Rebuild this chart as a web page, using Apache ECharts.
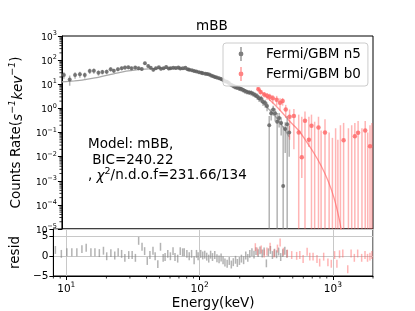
<!DOCTYPE html>
<html><head><meta charset="utf-8">
<script src="https://cdn.jsdelivr.net/npm/echarts@6/dist/echarts.min.js"></script>
<style>html,body{margin:0;padding:0;background:#fff}#c{width:415px;height:311px}</style>
</head><body><div id="c"></div>
<script>
// ---- Fermi/GBM n5 (NaI) ----
const n5E = [8.28, 9.18, 10.1, 11.0, 12.0, 13.1, 14.1, 15.3, 16.4, 17.7,
  19.0, 20.1, 21.6, 23.1, 24.5, 26.0, 27.5, 29.4, 31.2, 33.0,
  34.9, 37.0, 38.7, 40.5, 42.4, 44.7, 46.4, 48.6, 50.9, 53.3,
  55.1, 57.7, 60.4, 63.2, 65.4, 68.5, 71.6, 74.6, 76.7, 80.3,
  83.6, 87.1, 91.0, 94.8, 97.5, 102, 105.6, 109.3, 113.1, 117.1,
  121, 125, 130, 135, 140, 145, 150, 155, 161, 167, 173, 179, 186, 192, 199, 206,
  214, 222, 230, 238, 247, 256, 265, 275, 284, 295, 305,
  317, 328, 340, 352, 365, 378, 392, 406, 421, 436, 452];
const n5Y = [24.0, 15.8, 24.0, 25.7, 24.0, 35.5, 36.3, 30.2, 32.4, 33.1,
  41.7, 36.3, 41.7, 45.7, 49.0, 50.1, 45.7, 49.0, 45.7, 42.7,
  74.1, 57.5, 47.9, 39.8, 45.7, 50.1, 43.7, 45.7, 52.5, 44.7,
  45.7, 47.9, 46.8, 49.0, 44.7, 45.7, 47.9, 41.7, 39.8, 38.0,
  35.5, 33.9, 31.6, 30.2, 28.8, 27.5, 26.3, 25.1, 22.9, 21.4,
  20.0, 19.1, 17.8, 16.6, 15.1, 13.2, 12.6, 11.2, 9.5, 8.5, 7.6, 7.2, 6.6, 6.3, 5.8, 5.2,
  4.8, 4.6, 4.4, 4.0, 3.6, 3.2, 2.6, 2.5, 1.9, 1.66, 1.26,
  0.20, 0.63, 0.89, 0.63, 0.28, 0.40, 0.25, 0.0006, 0.14, 0.22, 0.10];
const n5ErrFrac = [0.3, 0.45, 0.3, 0.28, 0.28, 0.25, 0.25, 0.25, 0.22, 0.22,
  0.2, 0.2, 0.18, 0.18, 0.18, 0.17, 0.17, 0.16, 0.16, 0.16,
  0.16, 0.15, 0.15, 0.15, 0.15, 0.14, 0.14, 0.14, 0.14, 0.14,
  0.14, 0.14, 0.14, 0.14, 0.14, 0.14, 0.14, 0.14, 0.14, 0.14,
  0.14, 0.14, 0.14, 0.15, 0.15, 0.15, 0.15, 0.15, 0.15, 0.15,
  0.16, 0.16, 0.16, 0.17, 0.17, 0.17, 0.18, 0.18, 0.18, 0.19, 0.19, 0.2, 0.2, 0.2, 0.21, 0.22,
  0.22, 0.23, 0.24, 0.25, 0.26, 0.28, 0.3, 0.32, 0.34, 0.36, 0.4,
  1.4, 0.5, 0.45, 0.55, 1.3, 0.6, 0.7, 300, 0.9, 1.2, 0.9];
const n5Resid = [1.6, 0.6, 1.0, 1.0, 1.0, 1.8, 2.15, 1.0, 1.0, 0.8,
  1.4, 0.0, 0.8, 0.2, 1.0, 0.6, -0.4, 0.3, 0.3, -0.4,
  3.9, 2.4, 1.3, -1.2, 0.3, 1.4, 0.0, -2.0, 2.4, -0.4,
  -0.2, 0.6, 0.0, 1.3, -0.2, -0.6, 1.3, 1.0, 1.0, 0.6,
  0.0, 0.6, -1.0, 0.6, 0.0, 0.6, 0.2, 0.4, -0.1, -0.6,
  0.4, -0.2, 0.3, -0.5, -0.8, -0.3, -1.0, -1.6, -1.9, -1.2, -2.1, -1.5, -0.9, -1.7, -1.2, -0.6,
  -1.0, 0.2, -0.4, 0.6, 1.0, 0.4, 1.3, 0.8, 1.5, 0.7, 1.2,
  -1.8, 1.0, 1.6, 0.3, 0.9, 0.5, 1.2, -0.2, 0.8, 1.4, 0.6];
const n5ModelE = [8, 9, 10, 11, 12, 14, 18, 20, 25, 30, 35, 40, 50, 60, 70, 80, 90, 100, 120, 150, 180, 200, 250, 300, 350, 400, 452];
const n5ModelY = [12.6, 13.2, 13.8, 14.5, 15.5, 17.8, 24.0, 26.9, 34.7, 39.8, 42.7, 44.2, 45.2, 44.2, 41.2, 37.2, 33.1, 28.8, 20.9, 12.6, 8.5, 6.6, 3.0, 1.2, 0.50, 0.19, 0.066];

// ---- Fermi/GBM b0 (BGO) ----
const b0E = [262, 272, 290, 305, 320, 338, 362, 384, 402, 425, 455, 491, 535, 565, 598, 641, 671, 710,
  760, 796, 853, 918, 973, 1030, 1072, 1122, 1187, 1293, 1370, 1449, 1535, 1644, 1742, 1820, 1897, 1963];
const b0Y = [6.2, 4.8, 3.8, 3.3, 3.0, 2.6, 2.3, 1.7, 2.0, 0.9, 0.45, 0.48, 0.10, 0.0095, 0.31, 0.05, 0.19, null,
  0.16, null, 0.10, null, null, null, null, null, 0.048, null, null, 0.07, 0.098, null, 0.12, null, 0.027, null];
const b0Hi = [7.4, 5.9, 4.8, 4.3, 4.0, 3.6, 3.3, 2.6, 2.7, 1.4, 0.9, 0.95, 0.55, 0.45, 0.75, 0.45, 0.55, 0.28,
  0.45, 0.12, 0.35, 0.10, 0.06, 0.15, 0.05, 0.2, 0.25, 0.15, 0.2, 0.25, 0.3, 0.15, 0.3, 0.1, 0.2, 0.25];
const b0Lo = [5.0, 3.7, 2.8, 2.3, 2.0, 1.6, 1.3, 0.8, 1.3, 0.4, 0.05, 0.02, null, 0.0013, null, 0.025, null, null,
  null, null, null, null, null, null, null, null, null, null, null, null, null, null, null, null, null, null];
const b0Resid = [2.3, 1.2, 1.7, 0.7, 1.2, 2.4, 0.7, 1.95, 3.5, 1.15, 0.7, 0.3, 0.1, 0.3, -0.7, 1.15, -0.1, -0.1,
  -0.7, -1.6, -0.1, -1.55, -1.9, 0.3, -1.9, 0.5, 0.7, -3.3, 0.7, -0.4, 0.7, -0.4, 0.3, -0.4, -0.1, 0.3];
const b0ModelE = [254, 300, 350, 400, 450, 500, 550, 600, 700, 800, 900, 1000, 1100, 1150];
const b0ModelY = [7.4, 3.16, 1.41, 0.66, 0.316, 0.178, 0.1, 0.05, 0.0141, 0.00398, 0.001, 0.0002, 2.5e-5, 6.3e-6];

// ---- axes ----
const xMin = 8, xMax = 2000;
const yMin = 1e-5, yMax = 1e3;
const rMin = -5, rMax = 6.9;
const residTicks = [-5, 0, 5];
const xMinorTicks = [8, 9, 20, 30, 40, 50, 60, 70, 80, 90, 200, 300, 400, 500, 600, 700, 800, 900, 2000];
const yMinorMult = [2, 3, 4, 5, 6, 7, 8, 9];
const yDecades = [-5, -4, -3, -2, -1, 0, 1, 2];
const legendNames = ['Fermi/GBM n5', 'Fermi/GBM b0'];
const annotation = ['Model: mBB,', ' BIC=240.22', ', χ²/n.d.o.f=231.66/134'];

const FONT = 'DejaVu Sans';
const GRAY_DOT = '#5e5e5e', GRAY_BAR = 'rgba(128,128,128,0.6)', GRAY_LINE = '#a8a8a8';
const RED_DOT = '#ff6464', RED_BAR = 'rgba(255,90,90,0.45)', RED_LINE = '#ff9a9a';

const n5Bars = n5E.map((e, i) => {
  const y = n5Y[i], f = n5ErrFrac[i];
  const lo = f < 1 ? y * (1 - f) : yMin;
  return [e, Math.max(lo, yMin), y * (1 + f)];
});
const b0Bars = b0E.map((e, i) => [e, b0Lo[i] == null ? yMin : b0Lo[i], b0Hi[i]]);
const n5Dots = n5E.map((e, i) => [e, n5Y[i]]);
const b0Dots = b0E.map((e, i) => [e, b0Y[i]]).filter(d => d[1] != null);
const n5RBars = n5E.map((e, i) => [e, n5Resid[i] - 1, n5Resid[i] + 1]);
const b0RBars = b0E.map((e, i) => [e, b0Resid[i] - 1, b0Resid[i] + 1]);

const yMinorData = [];
yDecades.forEach(d => yMinorMult.forEach(m => yMinorData.push([xMin, m * Math.pow(10, d)])));
const xMinorData = xMinorTicks.map(v => [v, rMin]);

function errRender(color, width) {
  return function (params, api) {
    const a = api.coord([api.value(0), api.value(1)]);
    const b = api.coord([api.value(0), api.value(2)]);
    return {type: 'line', shape: {x1: a[0], y1: a[1], x2: b[0], y2: b[1]},
      style: {stroke: color, lineWidth: width}};
  };
}
function tickRender(dir, len) {
  return function (params, api) {
    const p = api.coord([api.value(0), api.value(1)]);
    const shape = dir === 'x' ? {x1: p[0], y1: p[1], x2: p[0], y2: p[1] + len}
                              : {x1: p[0], y1: p[1], x2: p[0] - len, y2: p[1]};
    return {type: 'line', shape, style: {stroke: '#000', lineWidth: 0.8}};
  };
}
function pow10Label(v) {
  const e = Math.log10(v);
  if (Math.abs(e - Math.round(e)) > 1e-6) return '';
  const n = Math.round(e);
  return '{b|10}{s|' + (n < 0 ? '\u2212' : '') + Math.abs(n) + '}';
}

const legendIcon = 'path://M0,7 L20,7 L20,7.02 L0,7.02 Z M9.4,0 L10.6,0 L10.6,14 L9.4,14 Z M12.4,7 A2.4,2.4 0 1 1 7.6,7 A2.4,2.4 0 1 1 12.4,7 Z';

const chart = echarts.init(document.getElementById('c'));
chart.setOption({
  animation: false,
  backgroundColor: '#fff',
  textStyle: {fontFamily: FONT},
  title: {text: 'mBB', left: 196, top: 19, padding: 0,
    textStyle: {fontFamily: FONT, fontSize: 13.5, fontWeight: 'normal', color: '#000'}},
  legend: {
    data: legendNames.map(n => ({name: n, icon: legendIcon})),
    orient: 'vertical', left: 223, top: 43,
    padding: [4, 7, 5, 8], itemWidth: 20, itemHeight: 14, itemGap: 6,
    backgroundColor: 'rgba(255,255,255,0.8)', borderColor: '#cccccc', borderWidth: 1, borderRadius: 3,
    textStyle: {fontFamily: FONT, fontSize: 13.5, color: '#000', padding: [0, 0, 0, 10]},
    selectedMode: false, z: 10
  },
  grid: [
    {left: 52, right: 42, top: 36, height: 193, show: true, borderColor: '#000', borderWidth: 1, backgroundColor: 'transparent'},
    {left: 52, right: 42, top: 229, height: 48, show: true, borderColor: '#000', borderWidth: 1, backgroundColor: 'transparent'}
  ],
  xAxis: [
    {type: 'log', gridIndex: 0, min: xMin, max: xMax, axisLine: {show: false},
      axisTick: {show: false}, axisLabel: {show: false}, splitLine: {show: false}},
    {type: 'log', gridIndex: 1, min: xMin, max: xMax,
      axisLine: {show: true, onZero: false, lineStyle: {color: '#000', width: 1}},
      axisTick: {show: true, length: 4, lineStyle: {color: '#000'}},
      axisLabel: {show: true, showMinLabel: false, showMaxLabel: false, margin: 5, color: '#000',
        formatter: v => pow10Label(v),
        rich: {b: {fontFamily: FONT, fontSize: 10.5, color: '#000', verticalAlign: 'bottom'},
               s: {fontFamily: FONT, fontSize: 7.5, color: '#000', verticalAlign: 'bottom', padding: [0, 0, 6, 0]}}},
      splitLine: {show: true, lineStyle: {color: '#c8c8c8', width: 1}},
      name: 'Energy(keV)', nameLocation: 'middle', nameGap: 20,
      nameTextStyle: {fontFamily: FONT, fontSize: 13.5, color: '#000'}}
  ],
  yAxis: [
    {type: 'log', gridIndex: 0, min: yMin, max: yMax,
      axisLine: {show: true, onZero: false, lineStyle: {color: '#000', width: 1}},
      axisTick: {show: true, length: 4, lineStyle: {color: '#000'}},
      axisLabel: {show: true, margin: 5, color: '#000', formatter: v => pow10Label(v),
        rich: {b: {fontFamily: FONT, fontSize: 9, color: '#000', verticalAlign: 'bottom'},
               s: {fontFamily: FONT, fontSize: 6.5, color: '#000', verticalAlign: 'bottom', padding: [0, 0, 5, 0]}}},
      splitLine: {show: false},
      name: 'Counts Rate({i|s}{u|\u22121}{i|kev}{u|\u22121})', nameLocation: 'middle', nameGap: 33,
      nameTextStyle: {fontFamily: FONT, fontSize: 13.5, color: '#000',
        rich: {i: {fontFamily: FONT, fontSize: 13.5, fontStyle: 'italic', color: '#000', verticalAlign: 'bottom'},
               u: {fontFamily: FONT, fontSize: 9.5, fontStyle: 'italic', color: '#000', verticalAlign: 'bottom', padding: [0, 0, 7, 0]}}}},
    {type: 'value', gridIndex: 1, min: rMin, max: rMax, interval: 5,
      axisLine: {show: true, onZero: false, lineStyle: {color: '#000', width: 1}},
      axisTick: {show: true, length: 4, lineStyle: {color: '#000'}},
      axisLabel: {show: true, margin: 5, color: '#000', fontFamily: FONT, fontSize: 10.5,
        formatter: v => residTicks.indexOf(v) >= 0 ? String(v).replace('-', '\u2212') : ''},
      splitLine: {show: true, lineStyle: {color: '#c8c8c8', width: 1}},
      name: 'resid', nameLocation: 'middle', nameGap: 27,
      nameTextStyle: {fontFamily: FONT, fontSize: 13.5, color: '#000'}}
  ],
  graphic: [{
    type: 'text', left: 88, top: 137, z: 20,
    style: {text: annotation[0] + '\n' + annotation[1] + '\n' + ', {i|χ}{u|2}/n.d.o.f=231.66/134',
      fontFamily: FONT, fontSize: 13.5, fill: '#000', lineHeight: 15.5,
      rich: {i: {fontFamily: FONT, fontSize: 13.5, fontStyle: 'italic', fill: '#000', verticalAlign: 'bottom'},
             u: {fontFamily: FONT, fontSize: 9.5, fill: '#000', verticalAlign: 'bottom', padding: [0, 0, 7, 0]}}}
  }],
  series: [
    {name: 'n5 model', type: 'line', xAxisIndex: 0, yAxisIndex: 0, showSymbol: false, smooth: 0.3,
      data: n5ModelE.map((e, i) => [e, n5ModelY[i]]), lineStyle: {color: GRAY_LINE, width: 1.3}, z: 2, clip: true},
    {name: 'b0 model', type: 'line', xAxisIndex: 0, yAxisIndex: 0, showSymbol: false, smooth: 0.3,
      data: b0ModelE.map((e, i) => [e, b0ModelY[i]]), lineStyle: {color: RED_LINE, width: 1.3}, z: 2, clip: true},
    {name: 'n5 err', type: 'custom', xAxisIndex: 0, yAxisIndex: 0, renderItem: errRender(GRAY_BAR, 1.5),
      data: n5Bars, encode: {x: 0, y: [1, 2]}, z: 3},
    {name: 'b0 err', type: 'custom', xAxisIndex: 0, yAxisIndex: 0, renderItem: errRender(RED_BAR, 1.5),
      data: b0Bars, encode: {x: 0, y: [1, 2]}, z: 3},
    {name: legendNames[0], type: 'scatter', xAxisIndex: 0, yAxisIndex: 0, symbolSize: 4,
      itemStyle: {color: GRAY_DOT}, data: n5Dots, z: 4},
    {name: legendNames[1], type: 'scatter', xAxisIndex: 0, yAxisIndex: 0, symbolSize: 4.5,
      itemStyle: {color: RED_DOT}, data: b0Dots, z: 4},
    {name: 'n5 resid', type: 'custom', xAxisIndex: 1, yAxisIndex: 1, renderItem: errRender(GRAY_BAR, 1.5),
      data: n5RBars, encode: {x: 0, y: [1, 2]}, z: 3},
    {name: 'b0 resid', type: 'custom', xAxisIndex: 1, yAxisIndex: 1, renderItem: errRender(RED_BAR, 1.5),
      data: b0RBars, encode: {x: 0, y: [1, 2]}, z: 3},
    {name: 'x minor', type: 'custom', xAxisIndex: 1, yAxisIndex: 1, renderItem: tickRender('x', 2.5),
      data: xMinorData, encode: {x: 0, y: 1}, silent: true, z: 5},
    {name: 'y minor', type: 'custom', xAxisIndex: 0, yAxisIndex: 0, renderItem: tickRender('y', 2.5),
      data: yMinorData, encode: {x: 0, y: 1}, silent: true, z: 5}
  ]
});
</script></body></html>
